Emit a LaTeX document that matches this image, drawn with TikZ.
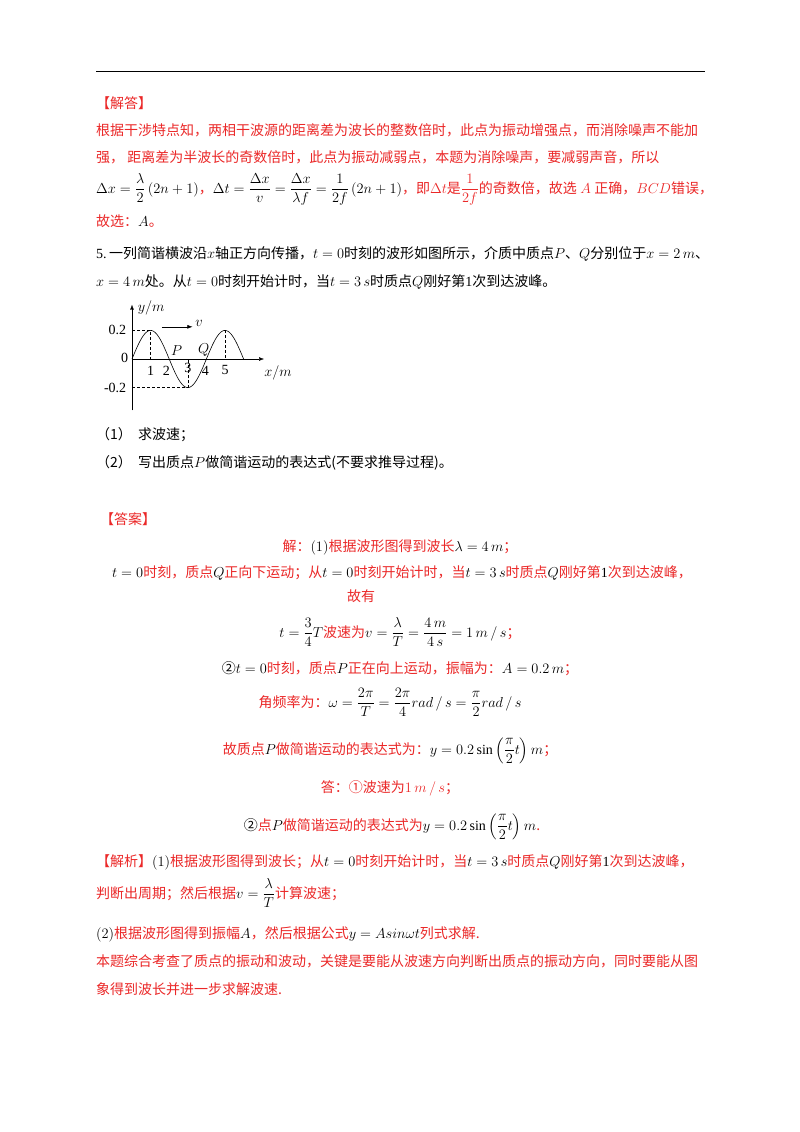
\documentclass[tikz,border=0pt]{standalone}
\usepackage{amsmath}
\usepackage{fontspec}
\setmainfont{Liberation Serif}
\newfontfamily\cjk{Noto Sans CJK SC}
\usetikzlibrary{arrows.meta}
\definecolor{ans}{RGB}{235,40,40}
\newcommand{\R}[1]{{\color{ans}\cjk #1}}
\newcommand{\K}[1]{{\cjk #1}}
\tikzset{ln/.style={anchor=base west,inner sep=0pt,font=\fontsize{14}{17}\selectfont},
 cl/.style={anchor=base,inner sep=0pt,font=\fontsize{14}{17}\selectfont},
 gl/.style={inner sep=0pt,font=\fontsize{14}{16}\selectfont},
 dsh/.style={densely dashed,line width=0.5pt}}
\begin{document}
\begin{tikzpicture}[x=1pt,y=-1pt]
\useasboundingbox[fill=white] (0,0) rectangle (800,1132);
\draw[line width=1pt] (96,72) -- (705,72);
\node[ln] (h1) at (96,108) {\R{【解答】}};
\node[ln] (l1) at (96,135) {\R{根据干涉特点知，两相干波源的距离差为波长的整数倍时，此点为振动增强点，而消除噪声不能加}};
\node[ln] (l2) at (96,162) {\R{强，\ 距离差为半波长的奇数倍时，此点为振动减弱点，本题为消除噪声，要减弱声音，所以}};
\node[ln] (l3) at (96,193) {$\Delta x=\dfrac{\lambda}{2}\left(2n+1\right)$\R{，}$\Delta t=\dfrac{\Delta x}{v}=\dfrac{\Delta x}{\lambda f}=\dfrac{1}{2f}\left(2n+1\right)$\R{，即}{\color{ans}$\Delta t$}\R{是}{\color{ans}$\dfrac{1}{2f}$}\R{的奇数倍，故选} {\color{ans}$A$} \R{正确，}{\color{ans}$BCD$}\R{错误，}};
\node[ln] (l4) at (96,226) {\R{故选：}$A$\R{。}};
\node[ln] (q1) at (96,258) {5.\,\K{一列简谐横波沿}$x$\K{轴正方向传播，}$t=0$\K{时刻的波形如图所示，介质中质点}$P$\K{、}$Q$\K{分别位于}$x=2\,m$\K{、}};
\node[ln] (q2) at (96,286) {$x=4\,m$\K{处。从}$t=0$\K{时刻开始计时，当}$t=3\,s$\K{时质点}$Q$\K{刚好第}1\K{次到达波峰。}};
% graph
\begin{scope}[shift={(132,359)},x=18.6pt,y=143pt]
\draw[-{Latex[length=5pt]}] (0,-0.36) -- (0,0.38) coordinate (ytop);
\draw[-{Latex[length=5pt]}] (0,0) -- (7.1,0) coordinate (xend);
\draw[dsh] (0,0.2) -- (1,0.2) -- (1,0);
\draw[dsh] (5,0.2) -- (5,0);
\draw[dsh] (0,-0.2) -- (3,-0.2) -- (3,0);
\draw[line width=0.6pt,domain=0:6,samples=80,smooth] plot (\x,{0.2*sin(90*\x)});
\draw[-{Latex[length=5pt]}] (1.6,0.225) -- (3.25,0.225);
\node[gl,anchor=west] (lv) at (3.4,0.25) {$v$};
\node[gl,anchor=west] (ly) at (0.3,0.36) {$y/m$};
\node[gl,anchor=west] (lx) at (7.1,-0.1) {$x/m$};
\node[gl,anchor=east] (l02) at (-0.3,0.2) {0.2};
\node[gl,anchor=east] (l0) at (-0.2,0.01) {0};
\node[gl,anchor=east] (lm02) at (-0.3,-0.2) {-0.2};
\node[gl] (t1) at (1,-0.08) {1};
\node[gl] (t2) at (1.85,-0.08) {2};
\node[gl] (t3) at (3,-0.06) {3};
\node[gl] (t4) at (3.95,-0.08) {4};
\node[gl] (t5) at (5,-0.08) {5};
\node[gl] (lP) at (2.4,0.06) {$P$};
\node[gl] (lQ) at (3.85,0.06) {$Q$};
\end{scope}
\node[ln] (s1) at (96,439) {\K{（1）\ \ 求波速；}};
\node[ln] (s2) at (96,467) {\K{（2）\ \ 写出质点}$P$\K{做简谐运动的表达式(不要求推导过程)。}};
\node[ln] (h2) at (100,524) {\R{【答案】}};
\node[cl] (a1) at (400,551) {\R{解：}$\left(1\right)$\R{根据波形图得到波长}$\lambda=4\,m$\R{；}};
\node[cl] (a2) at (402,577) {$t=0$\R{时刻，质点}$Q$\R{正向下运动；从}$t=0$\R{时刻开始计时，当}$t=3\,s$\R{时质点}$Q$\R{刚好第}1\R{次到达波峰，}};
\node[cl] (a3) at (361,601) {\R{故有}};
\node[cl] (a4) at (400,637) {$t=\dfrac{3}{4}T$\R{波速为}$v=\dfrac{\lambda}{T}=\dfrac{4\,m}{4\,s}=1\,m\,/\,s$\R{；}};
\node[cl] (a5) at (400,673) {\K{②}$t=0$\R{时刻，质点}$P$\R{正在向上运动，振幅为：}$A=0.2\,m$\R{；}};
\node[cl] (a6) at (390,707) {\R{角频率为：}$\omega=\dfrac{2\pi}{T}=\dfrac{2\pi}{4}rad\,/\,s=\dfrac{\pi}{2}rad\,/\,s$};
\node[cl] (a7) at (390,754) {\R{故质点}$P$\R{做简谐运动的表达式为：}$y=0.2\sin\left(\dfrac{\pi}{2}t\right)m$\R{；}};
\node[cl] (a8) at (390,792) {\R{答：①波速为}{\color{ans}$1\,m\,/\,s$}\R{；}};
\node[cl] (a9) at (392,830) {\K{②}\R{点}$P$\R{做简谐运动的表达式为}$y=0.2\sin\left(\dfrac{\pi}{2}t\right)m$\R{.}};
\node[ln] (b1) at (96,866) {\R{【解析】}$\left(1\right)$\R{根据波形图得到波长；从}$t=0$\R{时刻开始计时，当}$t=3\,s$\R{时质点}$Q$\R{刚好第}1\R{次到达波峰，}};
\node[ln] (b2) at (96,898) {\R{判断出周期；然后根据}$v=\dfrac{\lambda}{T}$\R{计算波速；}};
\node[ln] (b3) at (96,938) {$\left(2\right)$\R{根据波形图得到振幅}$A$\R{，然后根据公式}$y=Asin\omega t$\R{列式求解.}};
\node[ln] (b4) at (96,966) {\R{本题综合考查了质点的振动和波动，关键是要能从波速方向判断出质点的振动方向，同时要能从图}};
\node[ln] (b5) at (96,994) {\R{象得到波长并进一步求解波速.}};
\end{tikzpicture}
\end{document}
